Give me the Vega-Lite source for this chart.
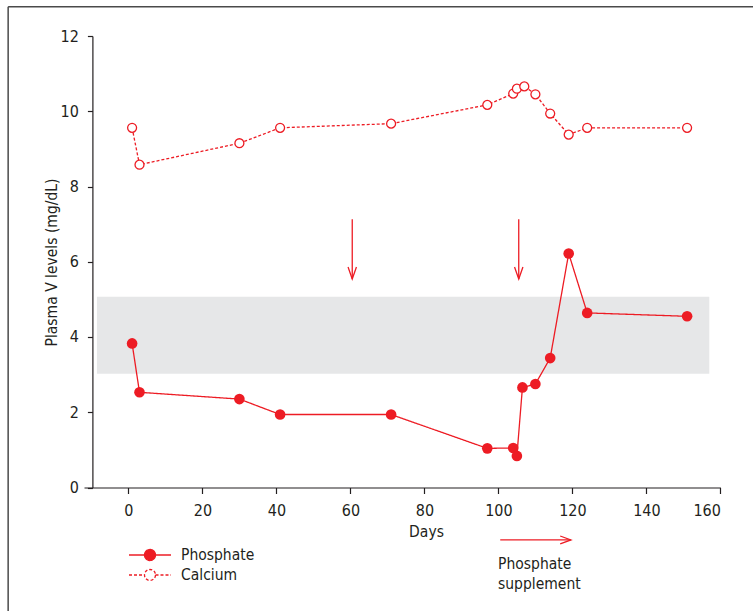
{
  "$schema": "https://vega.github.io/schema/vega-lite/v6.json",
  "width": 636.4,
  "height": 451.5,
  "autosize": {"type": "none"},
  "padding": {"left": 84, "top": 36, "right": 33, "bottom": 124},
  "background": "white",
  "config": {
    "font": "Liberation Sans Narrow, DejaVu Sans Condensed, sans-serif",
    "view": {"stroke": null},
    "axis": {
      "labelFont": "Liberation Sans Narrow, DejaVu Sans Condensed, sans-serif",
      "titleFont": "Liberation Sans Narrow, DejaVu Sans Condensed, sans-serif",
      "labelFontSize": 16,
      "titleFontSize": 15.5,
      "titleFontWeight": "normal",
      "labelColor": "#231f20",
      "titleColor": "#231f20",
      "domainColor": "#231f20",
      "tickColor": "#231f20",
      "domainWidth": 1.2,
      "tickWidth": 1.2,
      "grid": false
    },
    "legend": {
      "labelFont": "Liberation Sans Narrow, DejaVu Sans Condensed, sans-serif",
      "labelFontSize": 15.5,
      "labelColor": "#231f20"
    }
  },
  "datasets": {
    "readings": [
      {"day": 1, "value": 3.83, "series": "Phosphate"},
      {"day": 3, "value": 2.53, "series": "Phosphate"},
      {"day": 30, "value": 2.35, "series": "Phosphate"},
      {"day": 41, "value": 1.94, "series": "Phosphate"},
      {"day": 71, "value": 1.94, "series": "Phosphate"},
      {"day": 97, "value": 1.04, "series": "Phosphate"},
      {"day": 104, "value": 1.05, "series": "Phosphate"},
      {"day": 105, "value": 0.84, "series": "Phosphate"},
      {"day": 106.5, "value": 2.66, "series": "Phosphate"},
      {"day": 110, "value": 2.75, "series": "Phosphate"},
      {"day": 114, "value": 3.44, "series": "Phosphate"},
      {"day": 119, "value": 6.22, "series": "Phosphate"},
      {"day": 124, "value": 4.64, "series": "Phosphate"},
      {"day": 151, "value": 4.55, "series": "Phosphate"},
      {"day": 1, "value": 9.56, "series": "Calcium"},
      {"day": 3, "value": 8.58, "series": "Calcium"},
      {"day": 30, "value": 9.15, "series": "Calcium"},
      {"day": 41, "value": 9.56, "series": "Calcium"},
      {"day": 71, "value": 9.67, "series": "Calcium"},
      {"day": 97, "value": 10.17, "series": "Calcium"},
      {"day": 104, "value": 10.47, "series": "Calcium"},
      {"day": 105, "value": 10.6, "series": "Calcium"},
      {"day": 107, "value": 10.66, "series": "Calcium"},
      {"day": 110, "value": 10.45, "series": "Calcium"},
      {"day": 114, "value": 9.94, "series": "Calcium"},
      {"day": 119, "value": 9.38, "series": "Calcium"},
      {"day": 124, "value": 9.56, "series": "Calcium"},
      {"day": 151, "value": 9.56, "series": "Calcium"}
    ],
    "normalRange": [{"start": -8.5, "end": 157, "low": 3.02, "high": 5.07}],
    "supplement": [{"day": 60.5}, {"day": 105.5}],
    "note": [{"label": "Phosphate\nsupplement"}]
  },
  "layer": [
    {
      "data": {"name": "normalRange"},
      "mark": {"type": "rect", "color": "#e6e7e8"},
      "encoding": {
        "x": {
          "field": "start", "type": "quantitative",
          "scale": {"domain": [-12, 160], "nice": false, "zero": false},
          "axis": {
            "title": "Days",
            "values": [0, 20, 40, 60, 80, 100, 120, 140, 160],
            "tickSize": 6,
            "labelPadding": 9,
            "titleX": 342,
            "titleY": 49,
            "titleAlign": "center",
            "titleAnchor": null,
            "titleBaseline": "alphabetic"
          }
        },
        "x2": {"field": "end"},
        "y": {
          "field": "low", "type": "quantitative",
          "scale": {"domain": [0, 12], "nice": false, "zero": false},
          "axis": {
            "title": "Plasma V levels (mg/dL)",
            "values": [0, 1, 2, 3, 4, 5, 6, 7, 8, 9, 10, 11, 12],
            "labelExpr": "datum.value % 2 == 0 ? datum.label : ''",
            "tickSize": 5,
            "offset": -8.4,
            "labelPadding": 9,
            "titleX": -36,
            "titleY": 226,
            "titleAlign": "center",
            "titleAnchor": null,
            "titleBaseline": "alphabetic"
          }
        },
        "y2": {"field": "high"}
      }
    },
    {
      "data": {"name": "readings"},
      "mark": {"type": "line", "color": "#ed1c24", "strokeWidth": 1.3},
      "encoding": {
        "x": {"field": "day", "type": "quantitative"},
        "y": {"field": "value", "type": "quantitative"},
        "strokeDash": {
          "field": "series", "type": "nominal",
          "scale": {"domain": ["Phosphate", "Calcium"], "range": [[1, 0], [3, 2]]},
          "legend": {
            "title": null, "orient": "none", "legendX": 55, "legendY": 508,
            "symbolType": "M-2.1,0L-0.55,0M0.55,0L2.1,0M0.55,0A0.55,0.55 0 1 1 -0.55,0A0.55,0.55 0 1 1 0.55,0Z",
            "symbolSize": 400, "symbolStrokeColor": "#ed1c24", "symbolStrokeWidth": 1.3,
            "labelOffset": 20, "rowPadding": 0, "padding": 0
          }
        }
      }
    },
    {
      "data": {"name": "readings"},
      "transform": [{"filter": "datum.series == 'Phosphate'"}],
      "mark": {"type": "point", "filled": true, "size": 113, "stroke": "#ed1c24", "strokeWidth": 0, "opacity": 1},
      "encoding": {
        "x": {"field": "day", "type": "quantitative"},
        "y": {"field": "value", "type": "quantitative"},
        "fill": {
          "field": "series", "type": "nominal",
          "scale": {"domain": ["Phosphate", "Calcium"], "range": ["#ed1c24", "#ffffff"]},
          "legend": {
            "title": null, "orient": "none", "legendX": 55, "legendY": 508,
            "symbolType": "M-2.1,0L-0.55,0M0.55,0L2.1,0M0.55,0A0.55,0.55 0 1 1 -0.55,0A0.55,0.55 0 1 1 0.55,0Z",
            "symbolSize": 400, "symbolStrokeColor": "#ed1c24", "symbolStrokeWidth": 1.3,
            "labelOffset": 20, "rowPadding": 0, "padding": 0
          }
        }
      }
    },
    {
      "data": {"name": "readings"},
      "transform": [{"filter": "datum.series == 'Calcium'"}],
      "mark": {"type": "point", "filled": true, "size": 80, "stroke": "#ed1c24", "strokeWidth": 1.3, "opacity": 1},
      "encoding": {
        "x": {"field": "day", "type": "quantitative"},
        "y": {"field": "value", "type": "quantitative"},
        "fill": {
          "field": "series", "type": "nominal",
          "scale": {"domain": ["Phosphate", "Calcium"], "range": ["#ed1c24", "#ffffff"]},
          "legend": {
            "title": null, "orient": "none", "legendX": 55, "legendY": 508,
            "symbolType": "M-2.1,0L-0.55,0M0.55,0L2.1,0M0.55,0A0.55,0.55 0 1 1 -0.55,0A0.55,0.55 0 1 1 0.55,0Z",
            "symbolSize": 400, "symbolStrokeColor": "#ed1c24", "symbolStrokeWidth": 1.3,
            "labelOffset": 20, "rowPadding": 0, "padding": 0
          }
        }
      }
    },
    {
      "data": {"name": "supplement"},
      "mark": {"type": "rule", "color": "#ed1c24", "strokeWidth": 1.3},
      "encoding": {
        "x": {"field": "day", "type": "quantitative"},
        "y": {"datum": 7.13, "type": "quantitative"},
        "y2": {"datum": 5.54}
      }
    },
    {
      "data": {"name": "supplement"},
      "mark": {"type": "point", "filled": false, "shape": "M-0.35,-1L0,0L0.35,-1", "size": 576, "stroke": "#ed1c24", "strokeWidth": 1.3, "opacity": 1},
      "encoding": {
        "x": {"field": "day", "type": "quantitative"},
        "y": {"datum": 5.54, "type": "quantitative"}
      }
    },
    {
      "data": {"name": "note"},
      "mark": {"type": "rule", "color": "#ed1c24", "strokeWidth": 1.3},
      "encoding": {
        "x": {"datum": 100.5, "type": "quantitative"},
        "x2": {"datum": 119.6},
        "y": {"datum": -1.394, "type": "quantitative"}
      }
    },
    {
      "data": {"name": "note"},
      "mark": {"type": "point", "filled": false, "shape": "M-1,-0.37L0,0L-1,0.37", "size": 458, "stroke": "#ed1c24", "strokeWidth": 1.3, "opacity": 1},
      "encoding": {
        "x": {"datum": 119.6, "type": "quantitative"},
        "y": {"datum": -1.394, "type": "quantitative"}
      }
    },
    {
      "data": {"name": "note"},
      "mark": {"type": "text", "align": "left", "baseline": "alphabetic", "lineBreak": "\n", "lineHeight": 20, "fontSize": 15.5, "color": "#231f20", "font": "Liberation Sans Narrow, DejaVu Sans Condensed, sans-serif"},
      "encoding": {
        "x": {"datum": 99.9, "type": "quantitative"},
        "y": {"datum": -2.17, "type": "quantitative"},
        "text": {"field": "label"}
      }
    },
    {
      "data": {"name": "note"},
      "mark": {"type": "rule", "color": "#4a4a4a", "strokeWidth": 1.5},
      "encoding": {
        "x": {"datum": -32.5, "type": "quantitative"},
        "y": {"datum": 12.78, "type": "quantitative"},
        "y2": {"datum": -4}
      }
    },
    {
      "data": {"name": "note"},
      "mark": {"type": "rule", "color": "#4a4a4a", "strokeWidth": 1.5},
      "encoding": {
        "x": {"datum": -32.5, "type": "quantitative"},
        "x2": {"datum": 175},
        "y": {"datum": 12.78, "type": "quantitative"}
      }
    }
  ]
}
